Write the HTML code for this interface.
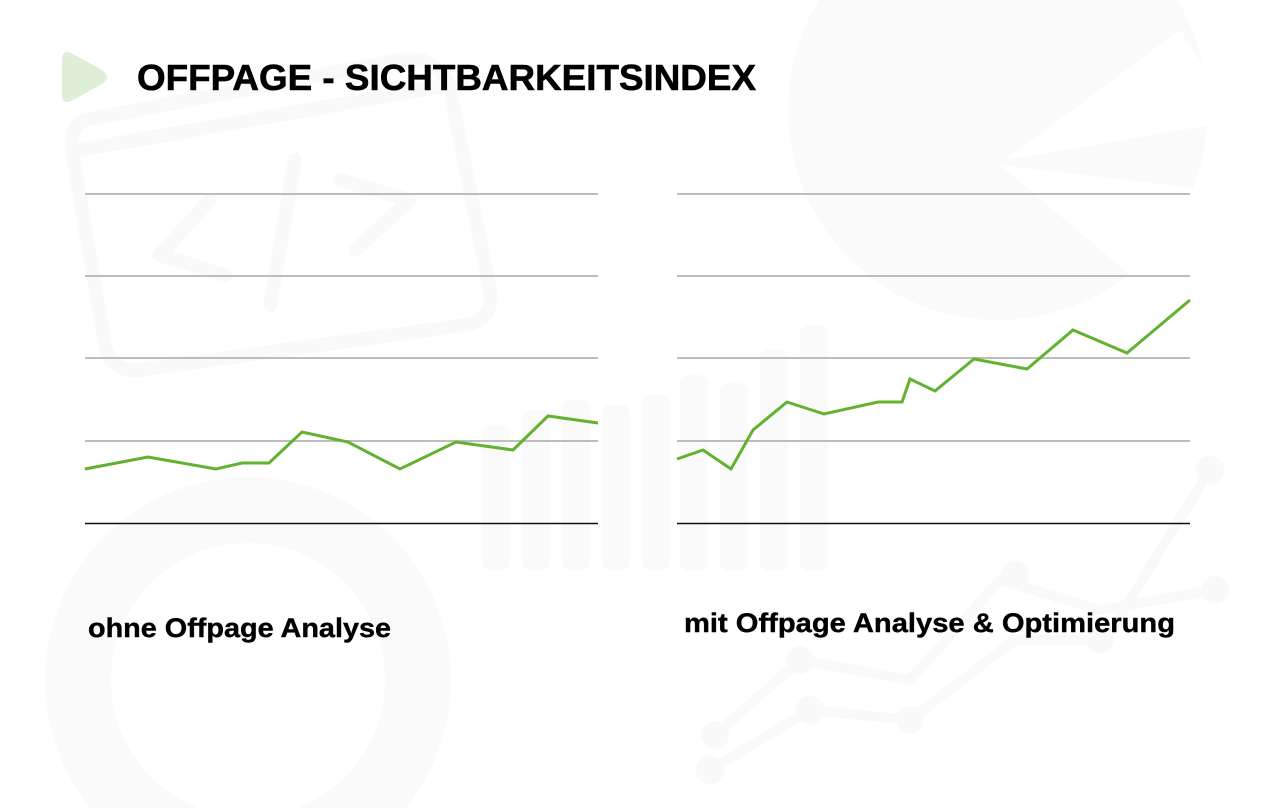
<!DOCTYPE html>
<html><head><meta charset="utf-8"><style>
html,body{margin:0;padding:0;background:#fff;width:1276px;height:808px;overflow:hidden}
svg{display:block}
</style></head><body>
<svg width="1276" height="808" viewBox="0 0 1276 808" xmlns="http://www.w3.org/2000/svg" overflow="hidden">
<rect width="1276" height="808" fill="#fff"/>
<g fill="none" stroke="#f9f9f9" stroke-width="14" stroke-linecap="round" stroke-linejoin="round">
<path d="M85 120 L400 60 Q440 55 450 90 L490 290 Q495 320 465 325 L140 370 Q110 372 105 345 L72 150 Q70 125 85 120Z"/>
<path d="M80 150 L450 85"/>
<path d="M210 200 L160 255 L225 275"/>
<path d="M295 160 L270 305"/>
<path d="M340 180 L410 200 L355 250"/>
</g>
<circle cx="998" cy="110" r="210" fill="#fafafa"/>
<path d="M1005 160 L1180 30 L1240 120 Z" fill="#fff"/>
<path d="M1000 165 L1210 190 L1160 300 Z" fill="#fff"/>
<g fill="#fafafa">
<rect x="482" y="425" width="28" height="145" rx="8"/>
<rect x="522" y="410" width="28" height="160" rx="8"/>
<rect x="562" y="400" width="28" height="170" rx="8"/>
<rect x="602" y="405" width="28" height="165" rx="8"/>
<rect x="642" y="395" width="28" height="175" rx="8"/>
<rect x="680" y="375" width="28" height="195" rx="8"/>
<rect x="720" y="383" width="28" height="187" rx="8"/>
<rect x="760" y="350" width="28" height="220" rx="8"/>
<rect x="800" y="325" width="28" height="245" rx="8"/>
</g>
<path d="M90.4 808 A203 203 0 1 1 405.6 808 L296.8 808 A137 137 0 1 0 199.2 808 Z" fill="#fafafa"/>
<g stroke="#f9f9f9" stroke-width="10" fill="none" stroke-linecap="round">
<path d="M710 770 L810 710 L910 720 L1015 640 L1105 640 L1210 470"/>
<path d="M715 735 L800 660 L910 680 L1000 580 L1100 610 L1215 590"/>
</g>
<g fill="#f9f9f9">
<circle cx="710" cy="770" r="14"/><circle cx="810" cy="710" r="14"/><circle cx="910" cy="720" r="14"/>
<circle cx="715" cy="735" r="14"/><circle cx="800" cy="660" r="14"/><circle cx="1210" cy="470" r="14"/>
<circle cx="1015" cy="575" r="14"/><circle cx="1215" cy="590" r="14"/><circle cx="1100" cy="640" r="14"/>
</g>
<path d="M62 60 Q62 48 73 54 L102 70 Q112 77 102 84 L73 100 Q62 106 62 94 Z" fill="#dfeed6"/>
<text x="137" y="90" font-family="Liberation Sans, sans-serif" font-weight="bold" font-size="36" fill="#000" stroke="#000" stroke-width="0.6" textLength="619" lengthAdjust="spacingAndGlyphs">OFFPAGE - SICHTBARKEITSINDEX</text>
<g stroke="#bdbdbd" stroke-width="2">
<line x1="85" y1="194" x2="598" y2="194"/><line x1="85" y1="276" x2="598" y2="276"/>
<line x1="85" y1="358" x2="598" y2="358"/><line x1="85" y1="441" x2="598" y2="441"/>
<line x1="677" y1="194" x2="1190" y2="194"/><line x1="677" y1="276" x2="1190" y2="276"/>
<line x1="677" y1="358" x2="1190" y2="358"/><line x1="677" y1="441" x2="1190" y2="441"/>
</g>
<g stroke="#111" stroke-width="1.6">
<line x1="85" y1="523.5" x2="598" y2="523.5"/><line x1="677" y1="523.5" x2="1190" y2="523.5"/>
</g>
<g fill="none" stroke="#62b230" stroke-width="3" stroke-linejoin="miter">
<polyline points="85,469 148,457 216,469 242,463 269,463 302,432 348,442 400,469 456,442 513,450 548,416 598,423"/>
<polyline points="677,459 703,450 731,469 753,430 787,402 824,414 878,402 902,402 910,379 935,391 974,359 1027,369 1073,330 1127,353 1190,300"/>
</g>
<text x="88" y="637" font-family="Liberation Sans, sans-serif" font-weight="bold" font-size="27" fill="#000" stroke="#000" stroke-width="0.4" textLength="303" lengthAdjust="spacingAndGlyphs">ohne Offpage Analyse</text>
<text x="684" y="632" font-family="Liberation Sans, sans-serif" font-weight="bold" font-size="27" fill="#000" stroke="#000" stroke-width="0.4" textLength="491" lengthAdjust="spacingAndGlyphs">mit Offpage Analyse &amp; Optimierung</text>
</svg>
</body></html>
